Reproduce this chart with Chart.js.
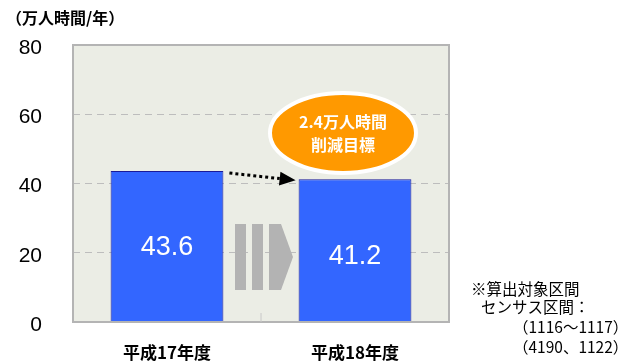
<!DOCTYPE html>
<html>
<head>
<meta charset="utf-8">
<script src="https://cdn.jsdelivr.net/npm/chart.js@4/dist/chart.umd.min.js"></script>
<style>
  html, body { margin: 0; padding: 0; background: #fff; }
  #wrap { width: 633px; height: 361px; }
</style>
</head>
<body>
<div id="wrap"><canvas id="c" width="633" height="361"></canvas></div>
<script>
// data
const categories = ['平成17年度', '平成18年度'];
const hours = [43.6, 41.2];
const yTicks = [0, 20, 40, 60, 80];
const unitLabel = '（万人時間/年）';
const targetLines = ['2.4万人時間', '削減目標'];
const noteLines = ['※算出対象区間', 'センサス区間：', '（1116～1117）', '（4190、1122）'];

const JP = '"Noto Sans CJK JP", "DejaVu Sans", sans-serif';
const LAT = '"Liberation Sans", Arial, sans-serif';

// background, border, decorations
const decor = {
  id: 'decor',
  beforeDraw(chart) {
    const { ctx, chartArea: a } = chart;
    ctx.save();
    ctx.fillStyle = '#EBEDE5';
    ctx.fillRect(a.left, a.top, a.right - a.left, a.bottom - a.top);
    ctx.restore();
  },
  afterDatasetsDraw(chart) {
    const { ctx, chartArea: a, scales } = chart;
    const x = scales.x, y = scales.y;
    ctx.save();

    // plot border
    ctx.strokeStyle = '#B4B4B4';
    ctx.lineWidth = 2;
    ctx.strokeRect(a.left, a.top, a.right - a.left, a.bottom - a.top);

    // small tick between categories
    const mid = (x.getPixelForValue(0) + x.getPixelForValue(1)) / 2;
    ctx.strokeStyle = '#C8C8C8';
    ctx.lineWidth = 1;
    ctx.beginPath();
    ctx.moveTo(mid, a.bottom);
    ctx.lineTo(mid, a.bottom - 9);
    ctx.stroke();

    // value labels inside bars
    ctx.fillStyle = '#fff';
    ctx.font = '27px ' + LAT;
    ctx.textAlign = 'center';
    ctx.textBaseline = 'middle';
    hours.forEach((v, i) => {
      const px = x.getPixelForValue(i);
      ctx.fillText(v.toFixed(1), px, y.getPixelForValue(v) + 77);
    });

    // grey chevron arrow
    const cy0 = 224, cy1 = 290, cm = (cy0 + cy1) / 2;
    ctx.fillStyle = '#B3B3B3';
    ctx.fillRect(235, cy0, 11, cy1 - cy0);
    ctx.fillRect(252, cy0, 11, cy1 - cy0);
    ctx.beginPath();
    ctx.moveTo(269, cy0);
    ctx.lineTo(281, cy0);
    ctx.lineTo(293, cm);
    ctx.lineTo(281, cy1);
    ctx.lineTo(269, cy1);
    ctx.closePath();
    ctx.fill();

    // dotted arrow from bar 1 top to bar 2 top
    const m0 = chart.getDatasetMeta(0).data;
    const x0 = m0[0].x + m0[0].width / 2 + 6;
    const y0 = y.getPixelForValue(hours[0]) + 2;
    const x1 = m0[1].x - m0[1].width / 2 - 3;
    const y1 = y.getPixelForValue(hours[1]) + 1;
    const ang = Math.atan2(y1 - y0, x1 - x0);
    const hx = x1 - 16 * Math.cos(ang), hy = y1 - 16 * Math.sin(ang);
    ctx.strokeStyle = '#000';
    ctx.lineWidth = 3;
    ctx.setLineDash([3, 3]);
    ctx.beginPath();
    ctx.moveTo(x0, y0);
    ctx.lineTo(hx, hy);
    ctx.stroke();
    ctx.setLineDash([]);
    ctx.fillStyle = '#000';
    ctx.beginPath();
    ctx.moveTo(x1, y1);
    ctx.lineTo(hx + 7 * Math.sin(ang), hy - 7 * Math.cos(ang));
    ctx.lineTo(hx - 7 * Math.sin(ang), hy + 7 * Math.cos(ang));
    ctx.closePath();
    ctx.fill();

    // orange target ellipse
    const ex = 343, ey = 133;
    ctx.fillStyle = '#FF9900';
    ctx.strokeStyle = '#fff';
    ctx.lineWidth = 4;
    ctx.beginPath();
    ctx.ellipse(ex, ey, 73, 40, 0, 0, Math.PI * 2);
    ctx.fill();
    ctx.stroke();
    ctx.fillStyle = '#fff';
    ctx.font = 'bold 16px ' + JP;
    ctx.fillText(targetLines[0], ex, ey - 11);
    ctx.fillText(targetLines[1], ex, ey + 12);

    // unit label
    ctx.fillStyle = '#000';
    ctx.textAlign = 'left';
    ctx.font = 'bold 16px ' + JP;
    ctx.fillText(unitLabel, 6, 18);

    // note text
    ctx.font = '15.5px ' + JP;
    ctx.fillText(noteLines[0], 471, 289);
    ctx.fillText(noteLines[1], 481, 307);
    ctx.fillText(noteLines[2], 513, 327);
    ctx.fillText(noteLines[3], 513, 347);

    ctx.restore();
  }
};

new Chart(document.getElementById('c'), {
  type: 'bar',
  data: {
    labels: categories,
    datasets: [{
      data: hours,
      backgroundColor: '#3366FF',
      borderColor: '#1A1A99',
      borderWidth: 1,
      borderSkipped: 'bottom',
      barPercentage: 0.6,
      categoryPercentage: 1
    }]
  },
  options: {
    responsive: false,
    animation: false,
    devicePixelRatio: 1,
    layout: { padding: { top: 45, right: 184, left: 0, bottom: 0 } },
    plugins: { legend: { display: false }, tooltip: { enabled: false } },
    scales: {
      x: {
        grid: { display: false, drawTicks: false },
        border: { display: false },
        ticks: { color: '#000', font: { family: JP, size: 17, weight: 'bold' }, padding: 20, maxRotation: 0 },
        afterFit(s) { s.height = 39; }
      },
      y: {
        min: 0, max: 80,
        afterBuildTicks(s) { s.ticks = yTicks.map(v => ({ value: v })); },
        grid: {
          drawTicks: false,
          color: (c) => (c.tick.value === 0 || c.tick.value === 80) ? 'rgba(0,0,0,0)' : '#BDBDBD',
          lineWidth: 1
        },
        border: { display: false, dash: [7, 5] },
        ticks: { color: '#000', font: { family: LAT, size: 21 }, padding: 31, labelOffset: 3 },
        afterFit(s) {
          s.width = 73;
          s.paddingTop = 0;
          s.paddingBottom = 0;
        }
      }
    }
  },
  plugins: [decor]
});
</script>
</body>
</html>
